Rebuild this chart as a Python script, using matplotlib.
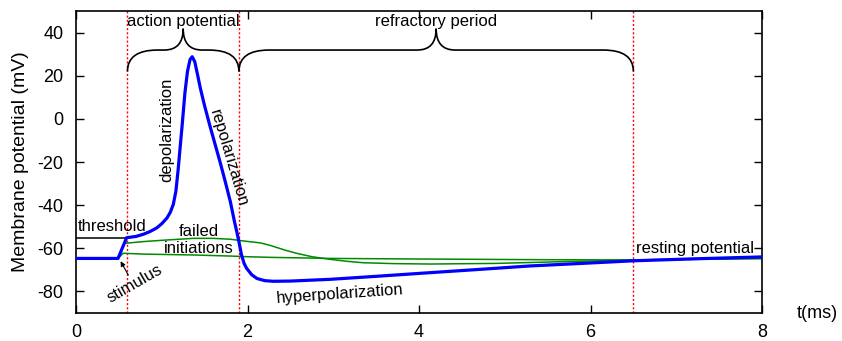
import matplotlib
matplotlib.use("Agg")
import matplotlib.pyplot as plt
from matplotlib.path import Path
from matplotlib.patches import PathPatch

plt.rcParams['font.family'] = ['Liberation Sans', 'DejaVu Sans']
plt.rcParams['axes.unicode_minus'] = False

# ---- data ----
t_ap = [0, 0.49, 0.59, 0.70, 0.785, 0.86, 0.94, 1.00, 1.06, 1.10, 1.135, 1.165,
        1.19, 1.215, 1.24, 1.27, 1.30, 1.33, 1.355, 1.385, 1.42, 1.45, 1.50, 1.56,
        1.62, 1.68, 1.74, 1.80, 1.85, 1.875, 1.90, 1.93, 1.96, 1.99, 2.05, 2.11,
        2.20, 2.30, 2.50, 2.96, 3.5, 4.13, 4.7, 5.29, 5.9, 6.5, 7.2, 8.0]
v_ap = [-64.7, -64.7, -55.1, -54.5, -53.5, -52.3, -50.6, -48.6, -46.0, -43.3, -39.6, -33.5,
        -24.0, -13.0, -2.0, 12.0, 22.0, 27.5, 28.8, 26.5, 20.0, 14.2, 6.0, -3.0,
        -11.5, -20.0, -29.0, -38.4, -48.0, -52.3, -57.0, -63.0, -67.0, -69.3, -72.3, -74.0,
        -75.0, -75.3, -75.2, -74.4, -73.0, -71.3, -69.8, -68.2, -67.0, -65.8, -64.9, -64.0]

t_fail1 = [0, 0.49, 0.57, 0.785, 1.0, 1.37, 1.6, 1.80, 1.95, 2.15, 2.26, 2.45, 2.57,
           2.75, 2.96, 3.15, 3.35, 3.7, 4.13, 4.9, 5.68, 6.5, 7.2, 8.0]
v_fail1 = [-64.7, -64.7, -57.7, -56.9, -56.3, -55.4, -55.4, -55.8, -56.6, -57.5, -58.6,
           -61.0, -62.3, -63.9, -65.1, -66.0, -66.7, -67.1, -67.3, -67.0, -66.2, -65.4,
           -65.0, -64.7]

t_fail2 = [0, 0.49, 0.55, 0.785, 1.37, 1.8, 1.99, 2.26, 2.96, 4.13, 5.5, 6.5, 8.0]
v_fail2 = [-64.7, -64.7, -62.3, -62.7, -63.1, -63.6, -63.9, -64.2, -64.7, -65.0, -65.3,
           -65.4, -64.8]

threshold_mV = -55
t_events = [0.6, 1.9, 6.5]          # AP start, AP end, end of refractory period
brace_labels = ["action potential", "refractory period"]
x_ticks = [0, 2, 4, 6, 8]
y_ticks = [-80, -60, -40, -20, 0, 20, 40]

# ---- figure ----
fig = plt.figure(figsize=(8.42, 3.41), dpi=100)
ax = fig.add_axes([76 / 842, 28 / 341, 686 / 842, 302 / 341])
ax.set_xlim(0, 8)
ax.set_ylim(-90, 50)

for te in t_events:
    ax.axvline(te, color='#ff0000', lw=1.0, linestyle=(0, (1.5, 1.5)), zorder=1)

ax.plot(t_fail1, v_fail1, color='#008a00', lw=1.1, zorder=2)
ax.plot(t_fail2, v_fail2, color='#008a00', lw=1.1, zorder=2)
ax.plot(t_ap, v_ap, color='#0000ff', lw=2.3, zorder=3, solid_joinstyle='round')
ax.plot([0, t_events[0]], [threshold_mV, threshold_mV], color='black', lw=1.1, zorder=2)

# braces
def brace(t0, t1, v0=22.0, v1=31.9, v2=41.8, r=0.35, r2=0.22):
    tm = 0.5 * (t0 + t1)
    verts = [(t0, v0), (t0, v1), (t0 + r, v1),
             (tm - r2, v1), (tm, v1), (tm, v2),
             (tm, v1), (tm + r2, v1),
             (t1 - r, v1), (t1, v1), (t1, v0)]
    codes = [Path.MOVETO, Path.CURVE3, Path.CURVE3,
             Path.LINETO, Path.CURVE3, Path.CURVE3,
             Path.CURVE3, Path.CURVE3,
             Path.LINETO, Path.CURVE3, Path.CURVE3]
    ax.add_patch(PathPatch(Path(verts, codes), fill=False, lw=1.2,
                           edgecolor='black', zorder=4))
    return tm

fs = 12
for (a, b), lab in zip([(t_events[0], t_events[1]), (t_events[1], t_events[2])], brace_labels):
    tm = brace(a, b)
    ax.text(tm, 45.2, lab, ha='center', va='center', fontsize=fs)

ax.text(0.02, -50.0, "threshold", ha='left', va='center', fontsize=fs)
ax.text(0.69, -76.5, "stimulus", ha='center', va='center', fontsize=fs, rotation=30)
ax.annotate("", xy=(0.52, -66.0), xytext=(0.61, -72.4),
            arrowprops=dict(arrowstyle='-|>', color='black', lw=0.8,
                            mutation_scale=7, shrinkA=0, shrinkB=0))
ax.text(1.058, -5.2, "depolarization", ha='center', va='center', fontsize=fs, rotation=90)
ax.text(1.777, -18.3, "repolarization", ha='center', va='center', fontsize=fs,
        rotation=-73.3, rotation_mode='anchor')
ax.text(1.438, -52.0, "failed", ha='center', va='center', fontsize=fs)
ax.text(1.426, -60.0, "initiations", ha='center', va='center', fontsize=fs)
ax.text(3.08, -81.4, "hyperpolarization", ha='center', va='center', fontsize=fs, rotation=4)
ax.text(7.22, -60.0, "resting potential", ha='center', va='center', fontsize=fs)

ax.set_xticks(x_ticks)
ax.set_yticks(y_ticks)
ax.tick_params(direction='in', top=True, right=True, length=6, width=1.0,
               labelsize=13)
ax.tick_params(axis='x', pad=8)
ax.tick_params(axis='y', pad=9)
for s in ax.spines.values():
    s.set_linewidth(1.2)

ax.set_ylabel("Membrane potential (mV)", fontsize=14)
ax.yaxis.set_label_coords(-0.0685, 0.5)
ax.text(817 / 842, 27 / 341, "t(ms)", transform=fig.transFigure, ha='center',
        va='center', fontsize=13)

fig.savefig("out.png", dpi=100)
